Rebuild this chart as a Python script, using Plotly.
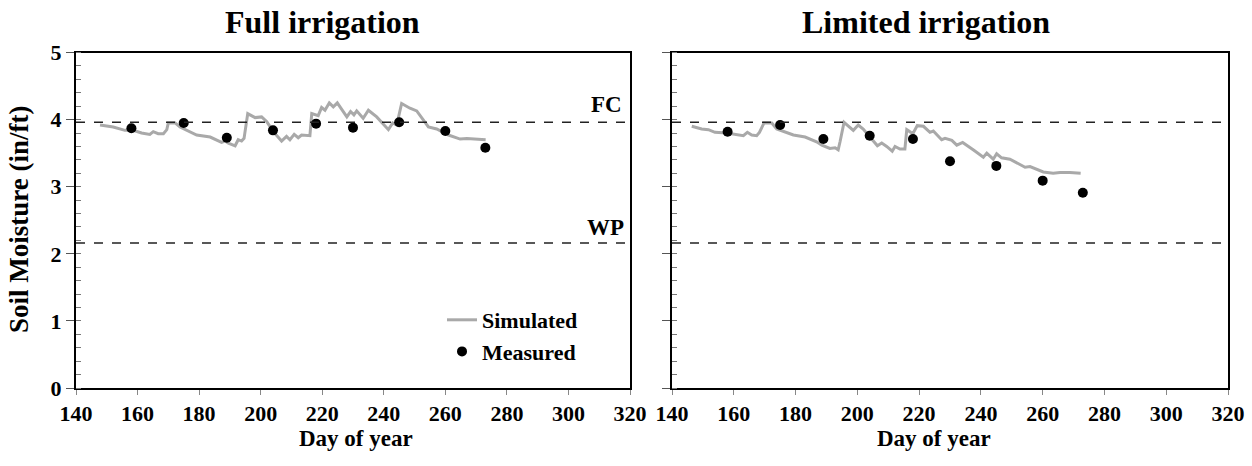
import plotly.graph_objects as go

# ---------------- data ----------------
full_sim_day = [147.8, 152.1, 155.9, 158.6, 161.3, 164.0, 165.1, 166.7, 168.4, 169.5, 170.0, 172.2,
                173.8, 179.2, 183.6, 187.3, 188.4, 189.5, 191.7, 192.7, 193.8, 194.6, 195.8, 198.2,
                200.3, 202.0, 204.1, 206.8, 208.4, 209.5, 210.9, 212.2, 213.3, 216.0, 216.6, 218.7,
                219.8, 220.9, 222.3, 223.6, 224.9, 228.0, 229.2, 230.3, 231.2, 233.3, 235.0, 237.7,
                241.5, 242.9, 244.2, 245.8, 248.5, 250.7, 254.5, 257.2, 261.0, 264.8, 267.0, 270.2,
                273.1]
full_sim_val = [3.92, 3.89, 3.84, 3.84, 3.80, 3.78, 3.82, 3.79, 3.79, 3.85, 3.95, 3.95,
                3.89, 3.77, 3.74, 3.66, 3.68, 3.65, 3.61, 3.70, 3.68, 3.72, 4.09, 4.03,
                4.04, 3.97, 3.82, 3.68, 3.75, 3.70, 3.78, 3.73, 3.77, 3.76, 4.09, 4.06,
                4.18, 4.14, 4.25, 4.19, 4.25, 4.04, 4.12, 4.07, 4.13, 4.02, 4.14, 4.04,
                3.85, 3.95, 3.92, 4.24, 4.17, 4.13, 3.89, 3.86, 3.77, 3.71, 3.72, 3.71,
                3.70]

lim_sim_day = [146.4, 149.6, 151.8, 153.9, 157.7, 160.9, 163.1, 164.4, 165.8, 167.4, 168.3, 169.8,
               172.3, 173.9, 179.3, 183.1, 186.8, 188.5, 191.1, 192.8, 193.8, 194.4, 195.7, 198.7,
               200.3, 201.9, 205.2, 206.5, 207.9, 209.5, 211.3, 212.2, 213.8, 215.4, 216.0, 217.3,
               218.1, 219.4, 221.4, 223.5, 224.6, 227.3, 228.4, 230.6, 232.2, 234.1, 237.5, 240.8,
               241.9, 244.0, 245.1, 246.7, 249.4, 254.3, 255.9, 260.2, 263.4, 265.6, 268.8, 272.3]
lim_sim_val = [3.90, 3.86, 3.85, 3.81, 3.80, 3.78, 3.76, 3.81, 3.77, 3.76, 3.81, 3.95,
               3.95, 3.86, 3.77, 3.74, 3.67, 3.62, 3.57, 3.58, 3.55, 3.67, 3.96, 3.84,
               3.92, 3.86, 3.67, 3.61, 3.65, 3.60, 3.53, 3.60, 3.56, 3.56, 3.85, 3.81,
               3.80, 3.91, 3.90, 3.81, 3.83, 3.70, 3.72, 3.69, 3.62, 3.66, 3.55, 3.44,
               3.50, 3.41, 3.49, 3.43, 3.41, 3.29, 3.30, 3.22, 3.20, 3.21, 3.21, 3.20]

meas_day = [158, 175, 189, 204, 218, 230, 245, 260, 273]
full_meas = [3.87, 3.95, 3.73, 3.84, 3.94, 3.88, 3.96, 3.83, 3.58]
lim_meas = [3.82, 3.92, 3.71, 3.76, 3.71, 3.38, 3.31, 3.09, 2.91]

FC = 3.96
WP = 2.16

panel_titles = ["Full irrigation", "Limited irrigation"]
x_title = "Day of year"
y_title = "Soil Moisture (in/ft)"
x_ticks = [140, 160, 180, 200, 220, 240, 260, 280, 300, 320]
y_ticks = [0, 1, 2, 3, 4, 5]

# ---------------- figure ----------------
W, H = 1252, 466
FONT = "Liberation Serif"
SIM_COLOR = "#A9A9A9"

fig = go.Figure()

panels = [("x", "y", full_sim_day, full_sim_val, full_meas, True),
          ("x2", "y2", lim_sim_day, lim_sim_val, lim_meas, False)]
for xa, ya, sd, sv, mv, show in panels:
    fig.add_trace(go.Scatter(x=sd, y=sv, mode="lines", xaxis=xa, yaxis=ya,
                             line=dict(color=SIM_COLOR, width=3), name="Simulated",
                             showlegend=show))
    fig.add_trace(go.Scatter(x=meas_day, y=mv, mode="markers", xaxis=xa, yaxis=ya,
                             marker=dict(color="black", size=10), name="Measured",
                             showlegend=show))
    for lvl in (FC, WP):
        fig.add_trace(go.Scatter(x=[x_ticks[0], x_ticks[-1]], y=[lvl, lvl], mode="lines",
                                 xaxis=xa, yaxis=ya, showlegend=False, hoverinfo="skip",
                                 line=dict(color="#222222", width=1.5, dash="dash")))

tickfont = dict(family=FONT, size=22, color="black", weight="bold")
ydom = [1 - 388 / H, 1 - 52.5 / H]
xdom1 = [76 / W, 630 / W]
xdom2 = [672 / W, 1228 / W]

common_x = dict(range=[140, 320], tickvals=x_ticks, ticks="outside", ticklen=5, tickwidth=1,
                tickcolor="#888888", showline=True, linecolor="black", linewidth=2, mirror=True,
                showgrid=False, zeroline=False, tickfont=tickfont, automargin=False)
common_y = dict(range=[0, 5], tickvals=y_ticks, ticks="outside", ticklen=8, tickwidth=1,
                tickcolor="#555555", showline=True, linecolor="black", linewidth=2, mirror=True,
                showgrid=False, zeroline=False, tickfont=tickfont, domain=ydom, automargin=False,
                minor=dict(dtick=0.2, ticks="inside", ticklen=5, tickcolor="#777777", tickwidth=1))

fig.update_layout(
    width=W, height=H, margin=dict(l=0, r=0, t=0, b=0, autoexpand=False),
    paper_bgcolor="white", plot_bgcolor="white",
    xaxis=dict(domain=xdom1, anchor="y", **common_x),
    yaxis=dict(anchor="x", **common_y),
    xaxis2=dict(domain=xdom2, anchor="y2", **common_x),
    yaxis2=dict(anchor="x2", showticklabels=False, **common_y),
    legend=dict(x=442 / W, y=1 - 299 / H, xanchor="left", yanchor="top",
                bgcolor="rgba(0,0,0,0)", font=dict(family=FONT, size=22, color="black", weight="bold"),
                itemwidth=30, tracegroupgap=0),
    showlegend=True,
)

ann = []
ann.append(dict(text=panel_titles[0], x=322 / W, y=1 - 22 / H, xref="paper", yref="paper",
                xanchor="center", yanchor="middle", showarrow=False,
                font=dict(family=FONT, size=32, color="black", weight="bold")))
ann.append(dict(text=panel_titles[1], x=926 / W, y=1 - 22 / H, xref="paper", yref="paper",
                xanchor="center", yanchor="middle", showarrow=False,
                font=dict(family=FONT, size=32, color="black", weight="bold")))
ann.append(dict(text=x_title, x=356 / W, y=1 - 438 / H, xref="paper", yref="paper",
                xanchor="center", yanchor="middle", showarrow=False,
                font=dict(family=FONT, size=23, color="black", weight="bold")))
ann.append(dict(text=x_title, x=934 / W, y=1 - 438 / H, xref="paper", yref="paper",
                xanchor="center", yanchor="middle", showarrow=False,
                font=dict(family=FONT, size=23, color="black", weight="bold")))
ann.append(dict(text=y_title, x=19 / W, y=1 - 220 / H, xref="paper", yref="paper", textangle=-90,
                xanchor="center", yanchor="middle", showarrow=False,
                font=dict(family=FONT, size=27, color="black", weight="bold")))
ann.append(dict(text="FC", x=312.5, y=FC, xref="x", yref="y", xanchor="center", yanchor="bottom",
                yshift=3, showarrow=False,
                font=dict(family=FONT, size=23, color="black", weight="bold")))
ann.append(dict(text="WP", x=312, y=WP, xref="x", yref="y", xanchor="center", yanchor="bottom",
                yshift=1, showarrow=False,
                font=dict(family=FONT, size=23, color="black", weight="bold")))
fig.update_layout(annotations=ann)

fig.write_html("out.html", config={"displayModeBar": False},
               post_script="document.body.style.margin='0px';document.body.style.overflow='hidden';")
